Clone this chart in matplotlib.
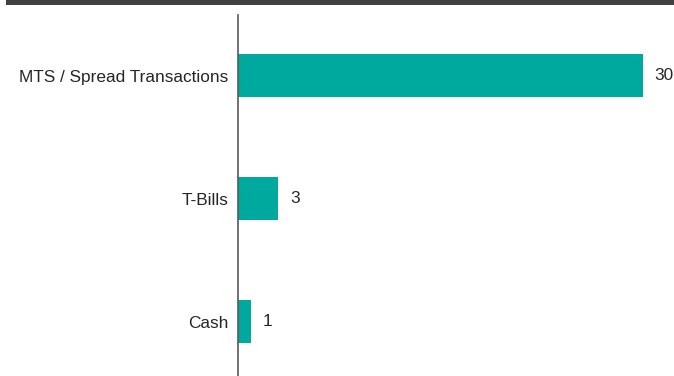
import matplotlib.pyplot as plt
from matplotlib.patches import Rectangle

# Transaction counts by instrument
categories = ["MTS / Spread Transactions", "T-Bills", "Cash"]
counts = [30, 3, 1]

BAR_COLOR = "#00A99D"
AXIS_COLOR = "#595959"
TEXT_COLOR = "#262626"

plt.rcParams["font.family"] = ["Liberation Sans", "DejaVu Sans"]

fig = plt.figure(figsize=(6.74, 3.76), dpi=100)
ax = fig.add_axes([238 / 674, 0.0, 1 - 238 / 674, 1 - 15 / 376])

positions = list(range(len(categories)))
bars = ax.barh(positions, counts, height=0.35, color=BAR_COLOR)

ax.set_xlim(0, 32.3)
ax.set_ylim(2.443, -0.492)

ax.set_yticks(positions)
ax.set_yticklabels(categories, fontsize=12.4, color=TEXT_COLOR)
ax.tick_params(axis="y", length=0, pad=7)
ax.set_xticks([])

for side in ["top", "right", "bottom"]:
    ax.spines[side].set_visible(False)
ax.spines["left"].set_color(AXIS_COLOR)
ax.spines["left"].set_linewidth(1.2)

for bar, val in zip(bars, counts):
    ax.text(bar.get_width() + 0.85, bar.get_y() + bar.get_height() / 2,
            str(val), va="center", ha="left", fontsize=12.4, color=TEXT_COLOR)

# dark header band along the top edge
fig.add_artist(Rectangle((6 / 674, 1 - 5 / 376), 1, 5 / 376,
                         transform=fig.transFigure, color="#404040", lw=0))

fig.savefig("out.png", dpi=100)
